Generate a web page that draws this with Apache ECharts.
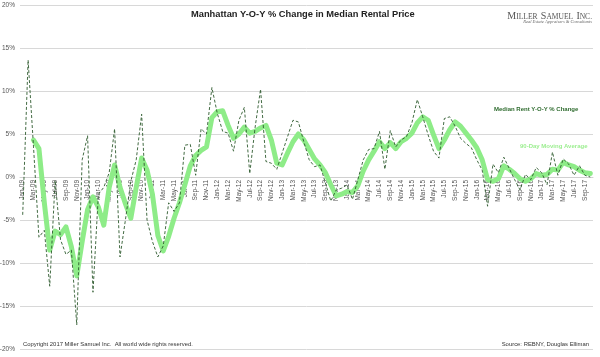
<!DOCTYPE html>
<html><head><meta charset="utf-8">
<script src="https://cdn.jsdelivr.net/npm/echarts@6/dist/echarts.min.js"></script>
<style>html,body{margin:0;padding:0;background:#fff}#c{width:600px;height:357px}</style>
</head><body><div id="c"></div>
<script>
var months = [
'Jan-09','Feb-09','Mar-09','Apr-09','May-09','Jun-09','Jul-09','Aug-09','Sep-09','Oct-09','Nov-09','Dec-09',
'Jan-10','Feb-10','Mar-10','Apr-10','May-10','Jun-10','Jul-10','Aug-10','Sep-10','Oct-10','Nov-10','Dec-10',
'Jan-11','Feb-11','Mar-11','Apr-11','May-11','Jun-11','Jul-11','Aug-11','Sep-11','Oct-11','Nov-11','Dec-11',
'Jan-12','Feb-12','Mar-12','Apr-12','May-12','Jun-12','Jul-12','Aug-12','Sep-12','Oct-12','Nov-12','Dec-12',
'Jan-13','Feb-13','Mar-13','Apr-13','May-13','Jun-13','Jul-13','Aug-13','Sep-13','Oct-13','Nov-13','Dec-13',
'Jan-14','Feb-14','Mar-14','Apr-14','May-14','Jun-14','Jul-14','Aug-14','Sep-14','Oct-14','Nov-14','Dec-14',
'Jan-15','Feb-15','Mar-15','Apr-15','May-15','Jun-15','Jul-15','Aug-15','Sep-15','Oct-15','Nov-15','Dec-15',
'Jan-16','Feb-16','Mar-16','Apr-16','May-16','Jun-16','Jul-16','Aug-16','Sep-16','Oct-16','Nov-16','Dec-16',
'Jan-17','Feb-17','Mar-17','Apr-17','May-17','Jun-17','Jul-17','Aug-17','Sep-17','Oct-17'];

var yoyChange = [
-4.4,13.6,3.5,-7.0,-6.2,-12.7,-0.4,-7.3,-9.0,-8.5,-17.2,2.0,
4.8,-13.4,-2.0,-1.2,0.5,5.6,-9.3,-5.0,-0.5,2.0,7.3,-5.0,
-7.5,-9.3,-8.0,-3.0,-4.0,-3.0,3.7,3.8,0.2,5.6,5.0,10.4,
7.4,5.3,5.1,3.0,6.6,8.1,0.4,5.8,10.2,1.8,1.6,0.9,
2.8,4.7,6.6,6.4,4.1,2.0,1.2,1.4,-0.7,-2.8,-1.5,-1.3,
-0.9,-2.6,-0.3,2.0,3.2,3.3,5.3,0.9,5.4,3.5,4.3,4.7,
6.3,9.0,7.0,4.9,3.0,2.2,6.8,7.0,5.9,4.5,3.9,3.4,
2.0,0.8,-3.4,1.5,0.5,2.3,1.0,-0.3,-1.5,0.3,-0.3,1.1,
0.5,-0.9,2.9,0.2,2.1,1.5,0.2,1.3,0.2,0.0];

var movingAvg = [
null,null,4.3,3.3,-3.0,-8.5,-6.3,-6.7,-5.8,-8.1,-11.5,-7.5,
-3.8,-2.3,-3.5,-5.6,-1.2,1.4,-1.2,-3.1,-4.8,-1.2,2.2,0.8,
-2.0,-6.8,-8.6,-6.9,-4.8,-3.0,-0.9,1.3,2.5,3.1,3.5,6.9,
7.6,7.7,6.0,4.5,5.0,5.8,5.1,5.3,5.7,6.0,4.3,1.6,
1.4,2.8,4.1,5.0,4.3,3.2,2.1,1.4,0.5,-0.9,-2.2,-2.0,
-1.7,-1.8,-1.0,0.7,2.0,3.0,4.1,3.3,4.0,3.3,4.1,4.5,
5.1,6.3,7.0,6.6,4.9,3.3,4.3,5.5,6.4,5.9,5.1,4.3,
3.4,2.0,-0.3,-0.5,-0.2,1.3,0.9,0.4,-0.2,-0.5,-0.2,0.4,
0.2,0.3,0.9,0.8,1.7,1.4,1.2,0.8,0.5,0.4];

var yTicks = {min: -20, max: 20, interval: 5};
var seriesNames = ['Median Rent Y-O-Y % Change', '90-Day Moving Average'];

var chart = echarts.init(document.getElementById('c'), null, {renderer: 'canvas'});
chart.setOption({
  animation: false,
  backgroundColor: '#ffffff',
  grid: {left: 20, right: 7, top: 5, bottom: 8, containLabel: false, outerBoundsMode: 'none'},
  xAxis: {
    type: 'category', data: months, boundaryGap: true, position: 'bottom', offset: -172,
    axisLine: {show: true, onZero: false, lineStyle: {color: '#d0d0d0', width: 1}},
    axisTick: {show: false},
    axisLabel: {rotate: 90, interval: 1, fontSize: 6.5, color: '#555', fontFamily: 'Liberation Sans, Arial', margin: 3}
  },
  yAxis: {
    type: 'value', min: yTicks.min, max: yTicks.max, interval: yTicks.interval,
    axisLine: {show: false}, axisTick: {show: false},
    axisLabel: {formatter: '{value}%', fontSize: 6.5, color: '#555', fontFamily: 'Liberation Sans, Arial', margin: 5},
    splitLine: {lineStyle: {color: '#d8d8d8', width: 1}}
  },
  series: [
    {name: seriesNames[1], type: 'line', data: movingAvg, showSymbol: false, z: 2,
     lineStyle: {color: '#8eec88', width: 5, join: 'round', cap: 'round'}},
    {name: seriesNames[0], type: 'line', data: yoyChange, showSymbol: false, z: 3,
     lineStyle: {color: '#2e5a2e', width: 0.9, type: [3, 2]}}
  ],
  graphic: [
    {type: 'text', left: 191, top: 10, style: {text: 'Manhattan Y-O-Y % Change in Median Rental Price', font: 'bold 9.3px Liberation Sans, Arial', fill: '#222'}},
    {type: 'text', right: 8, top: 9, style: {
      text: '{b|M}{s|ILLER} {b|S}{s|AMUEL} {b|I}{s|NC.}',
      rich: {b: {fontSize: 10, fontFamily: 'Liberation Serif, Times New Roman', fill: '#555', verticalAlign: 'bottom'},
             s: {fontSize: 7.5, fontFamily: 'Liberation Serif, Times New Roman', fill: '#555', verticalAlign: 'bottom'}}}},
    {type: 'text', right: 8, top: 19, style: {text: 'Real Estate Appraisers & Consultants', font: 'italic 4.5px Liberation Serif, Times New Roman', fill: '#666'}},
    {type: 'text', left: 494, top: 106, style: {text: seriesNames[0], font: 'bold 6px Liberation Sans, Arial', fill: '#2e6b2e'}},
    {type: 'text', left: 520, top: 143, style: {text: seriesNames[1], font: 'bold 6px Liberation Sans, Arial', fill: '#9cee90'}},
    {type: 'text', left: 23, top: 341, style: {text: 'Copyright 2017 Miller Samuel Inc.  All world wide rights reserved.', font: '5.9px Liberation Sans, Arial', fill: '#333'}},
    {type: 'text', right: 11, top: 341, style: {text: 'Source: REBNY, Douglas Elliman', font: '5.9px Liberation Sans, Arial', fill: '#333'}}
  ]
});
</script></body></html>
